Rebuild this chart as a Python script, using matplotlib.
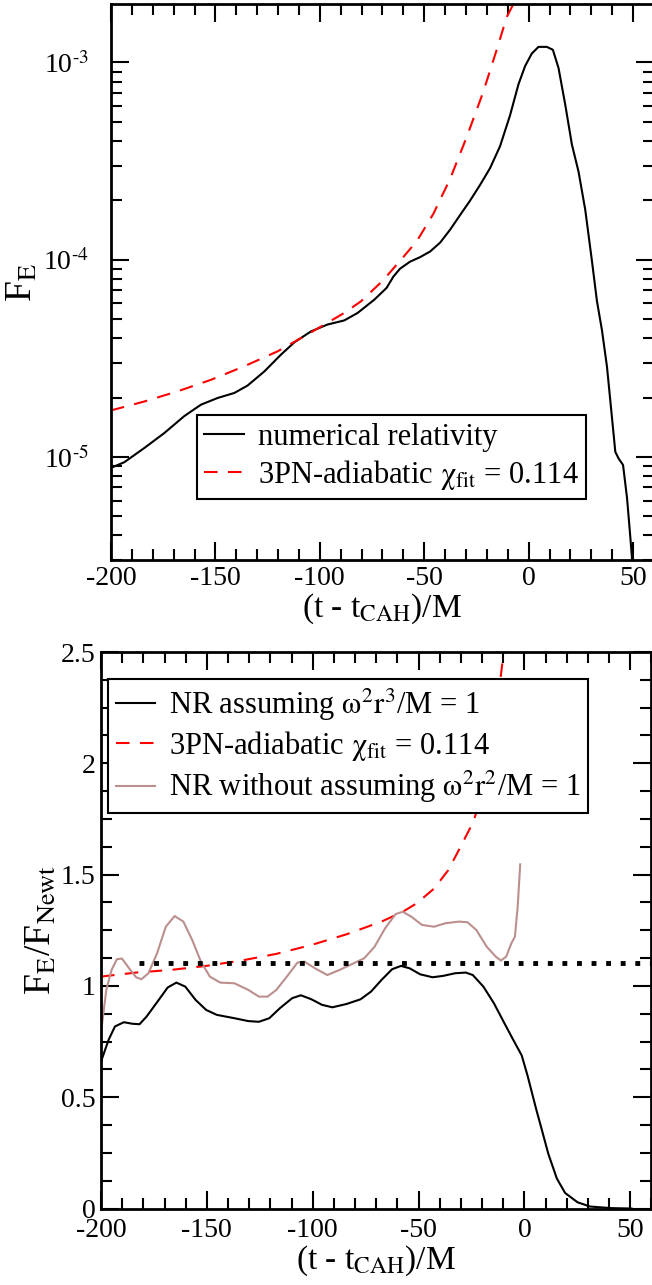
import matplotlib
matplotlib.use("Agg")
import matplotlib.pyplot as plt
import numpy as np
from matplotlib.ticker import MultipleLocator, FixedLocator, FuncFormatter, LogLocator, NullFormatter

plt.rcParams["font.family"] = ["Liberation Serif", "DejaVu Serif"]
plt.rcParams["mathtext.fontset"] = "stix"
plt.rcParams["axes.unicode_minus"] = False

# --- top panel: energy flux F_E ----------------------------------------------
nr_t = [-200, -193.6, -184.0, -174.5, -164.9, -156.9, -148.9, -140.9, -134.6,
        -126.6, -118.6, -112.2, -104.2, -96.3, -88.3, -81.9, -73.9, -68.0,
        -64.8, -61.6, -56.8, -52.0, -47.2, -42.4, -37.6, -32.9, -28.1, -23.3,
        -18.5, -13.7, -8.9, -4.9, -1.7, 1.5, 4.7, 8.7, 11.6, 14.3, 17.5, 20.7,
        23.9, 27.1, 30.3, 32.7, 35.1, 37.5, 39.9, 41.5, 43.1, 45.2, 47.1, 48.7,
        49.8]
nr_flux = [8.8e-6, 9.4e-6, 1.11e-5, 1.32e-5, 1.61e-5, 1.84e-5, 1.99e-5, 2.11e-5,
           2.30e-5, 2.71e-5, 3.30e-5, 3.81e-5, 4.33e-5, 4.69e-5, 4.92e-5,
           5.37e-5, 6.27e-5, 7.2e-5, 8.2e-5, 9.0e-5, 9.77e-5, 1.03e-4, 1.10e-4,
           1.22e-4, 1.42e-4, 1.68e-4, 1.99e-4, 2.39e-4, 2.91e-4, 3.76e-4, 5.40e-4,
           7.74e-4, 9.59e-4, 1.11e-3, 1.20e-3, 1.20e-3, 1.16e-3, 9.38e-4, 6.13e-4,
           3.84e-4, 2.79e-4, 1.79e-4, 9.86e-5, 6.17e-5, 4.39e-5, 2.87e-5, 1.58e-5,
           1.06e-5, 9.8e-6, 9.1e-6, 6.2e-6, 3.9e-6, 2.77e-6]

pn_t = [-200, -184.0, -168.1, -152.1, -136.2, -120.2, -104.2, -88.3, -80.3,
        -70.0, -61.6, -53.6, -45.6, -37.6, -29.7, -21.7, -15.3, -10.5, -7.3]
pn_flux = [1.72e-5, 1.91e-5, 2.15e-5, 2.46e-5, 2.88e-5, 3.43e-5, 4.28e-5,
           5.37e-5, 6.15e-5, 7.8e-5, 9.86e-5, 1.24e-4, 1.71e-4, 2.57e-4,
           4.18e-4, 7.11e-4, 1.16e-3, 1.70e-3, 1.98e-3]

# --- bottom panel: F_E / F_Newt ------------------------------------------------
ratio_t = [-200, -196.4, -193.4, -189.2, -185.1, -181.8, -178.5, -173.5, -168.5,
           -164.4, -160.2, -155.3, -150.3, -145.3, -137.0, -130.4, -125.4, -120.5,
           -115.5, -109.7, -105.6, -100.6, -95.6, -90.7, -84.0, -77.4, -72.4,
           -67.5, -62.5, -58.3, -54.2, -49.2, -43.4, -38.5, -32.7, -27.7, -24.4,
           -19.4, -14.4, -9.5, -5.3, -1.3, 1.5, 5.5, 8.4, 11.3, 15.3, 19.2, 25.1,
           31.0, 40.8, 50.6]
ratio_nr = [0.66, 0.758, 0.818, 0.837, 0.830, 0.828, 0.862, 0.927, 0.993, 1.015,
            0.997, 0.937, 0.892, 0.870, 0.855, 0.842, 0.839, 0.855, 0.900, 0.945,
            0.958, 0.940, 0.915, 0.904, 0.919, 0.940, 0.975, 1.027, 1.075, 1.090,
            1.079, 1.052, 1.039, 1.045, 1.057, 1.060, 1.049, 0.997, 0.922, 0.833,
            0.758, 0.688, 0.596, 0.448, 0.347, 0.245, 0.135, 0.070, 0.028, 0.009,
            0.002, 0.0]

free_t = [-200, -197.5, -195.0, -192.5, -190.1, -186.7, -183.4, -180.9, -177.6,
          -173.5, -169.4, -165.2, -161.1, -156.9, -152.8, -148.6, -143.7, -137.0,
          -130.4, -125.4, -121.3, -117.2, -112.2, -107.2, -103.9, -98.9, -93.1,
          -87.3, -82.4, -75.7, -70.8, -65.8, -60.8, -57.5, -53.4, -48.4, -42.6,
          -37.6, -31.0, -26.9, -22.7, -17.8, -13.6, -11.1, -8.6, -6.2, -4.5, -3.2,
          -2.0]
ratio_free = [0.79, 0.982, 1.072, 1.120, 1.123, 1.079, 1.039, 1.030, 1.057, 1.147,
              1.266, 1.314, 1.289, 1.206, 1.109, 1.042, 1.015, 1.012, 0.982, 0.952,
              0.952, 0.982, 1.042, 1.105, 1.109, 1.079, 1.049, 1.072, 1.094, 1.124,
              1.176, 1.259, 1.323, 1.333, 1.311, 1.274, 1.266, 1.281, 1.289, 1.286,
              1.251, 1.176, 1.132, 1.114, 1.132, 1.191, 1.221, 1.356, 1.546]

pn_ratio_t = [-200, -183.4, -166.9, -150.3, -133.7, -117.2, -100.6, -84.0, -67.5,
              -57.5, -50.9, -42.6, -36.0, -31.0, -24.0, -20.0, -15.1, -12.2, -9.8]
pn_ratio = [1.042, 1.060, 1.072, 1.090, 1.114, 1.144, 1.184, 1.232, 1.289, 1.333,
            1.371, 1.438, 1.520, 1.610, 1.740, 1.869, 2.109, 2.312, 2.5]

ref_t = [-182, 60]
ref_level = [1.105, 1.105]

TICK_FS = 20
LABEL_FS = 24
YLABEL_FS = 27
LEG_FS = 22


def style_ticks(ax, ypad):
    ax.tick_params(which="both", direction="in", top=True, right=True,
                   labelsize=TICK_FS, width=1.5)
    ax.tick_params(which="major", length=13)
    ax.tick_params(which="minor", length=8)
    ax.tick_params(axis="y", which="major", pad=ypad)
    for s in ax.spines.values():
        s.set_linewidth(2)


def style_legend(leg):
    frame = leg.get_frame()
    frame.set_edgecolor("black")
    frame.set_linewidth(1.5)


def decade_label(v, pos):
    return r"10$^{\text{-%d}}$" % round(-np.log10(v))


fig = plt.figure(figsize=(6.52, 12.85), dpi=100)

# top panel
ax1 = fig.add_axes([0.1702, 0.5642, 0.8328, 0.4327])
ax1.plot(nr_t, nr_flux, color="black", lw=1.5, label="numerical relativity")
ax1.plot(pn_t, pn_flux, color="red", lw=1.5, dashes=(6.5, 5),
         label=r"3PN-adiabatic $\mathrm{\chi_{fit}}$ = 0.114")
ax1.set_yscale("log")
ax1.set_xlim(-200, 60)
ax1.set_ylim(3e-6, 1.98e-3)
ax1.xaxis.set_major_locator(MultipleLocator(50))
ax1.xaxis.set_minor_locator(MultipleLocator(10))
ax1.yaxis.set_major_locator(FixedLocator([1e-5, 1e-4, 1e-3]))
ax1.yaxis.set_minor_locator(LogLocator(base=10, subs=np.arange(2, 10)))
ax1.yaxis.set_minor_formatter(NullFormatter())
ax1.yaxis.set_major_formatter(FuncFormatter(decade_label))
style_ticks(ax1, ypad=16)
ax1.tick_params(axis="x", which="major", pad=4)
ax1.set_xlabel(r"(t - t$_{\mathrm{CAH}}$)/M", fontsize=LABEL_FS, labelpad=1)
ax1.set_ylabel(r"F$_{\mathrm{E}}$", fontsize=YLABEL_FS, labelpad=2)
leg1 = ax1.legend(loc="upper left", bbox_to_anchor=(0.158, 0.261), fontsize=LEG_FS,
                  handlelength=1.3, handletextpad=0.45, borderpad=0.25,
                  labelspacing=0.2, fancybox=False, framealpha=1, borderaxespad=0)
style_legend(leg1)

# bottom panel
ax2 = fig.add_axes([0.1549, 0.0595, 0.8443, 0.4331])
ax2.plot(ratio_t, ratio_nr, color="black", lw=1.5,
         label=r"NR assuming $\mathrm{\omega^2 r^3}$/M = 1")
ax2.plot(pn_ratio_t, pn_ratio, color="red", lw=1.5, dashes=(6.5, 5),
         label=r"3PN-adiabatic $\mathrm{\chi_{fit}}$ = 0.114")
ax2.plot(free_t, ratio_free, color="#bc8f8f", lw=1.5,
         label=r"NR without assuming $\mathrm{\omega^2 r^2}$/M = 1")
ax2.plot(ref_t, ref_level, color="black", lw=3.5, linestyle=(0, (1, 2)))
ax2.set_xlim(-200, 60)
ax2.set_ylim(0, 2.5)
ax2.xaxis.set_major_locator(MultipleLocator(50))
ax2.xaxis.set_minor_locator(MultipleLocator(10))
ax2.yaxis.set_major_locator(MultipleLocator(0.5))
ax2.yaxis.set_minor_locator(MultipleLocator(0.125))
ax2.yaxis.set_major_formatter(FuncFormatter(lambda v, p: "%g" % v))
style_ticks(ax2, ypad=4)
ax2.tick_params(axis="x", which="major", pad=7)
ax2.set_xlabel(r"(t - t$_{\mathrm{CAH}}$)/M", fontsize=LABEL_FS, labelpad=0)
ax2.set_ylabel(r"F$_{\mathrm{E}}$/F$_{\mathrm{Newt}}$", fontsize=YLABEL_FS, labelpad=2)
leg2 = ax2.legend(loc="upper left", bbox_to_anchor=(0.0127, 0.9515), fontsize=LEG_FS,
                  handlelength=1.3, handletextpad=0.45, borderpad=0.25,
                  labelspacing=0.2, fancybox=False, framealpha=1, borderaxespad=0)
style_legend(leg2)

fig.savefig("out.png", dpi=100)
